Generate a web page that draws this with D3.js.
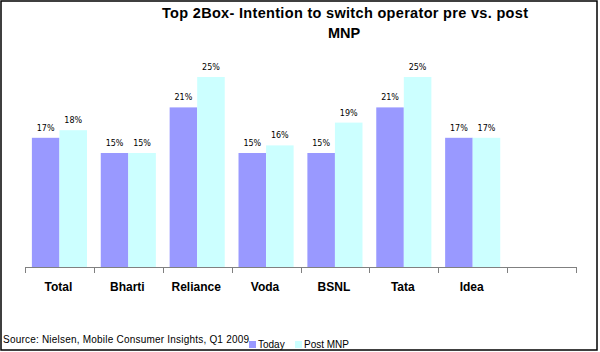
<!DOCTYPE html>
<html>
<head>
<meta charset="utf-8">
<script src="https://cdn.jsdelivr.net/npm/d3@7"></script>
<style>
  body { margin: 0; background: #fff; }
  svg { display: block; }
  .cat-label { font-family: "Liberation Sans", Arial, sans-serif; font-weight: bold; font-size: 12px; }
  .val-label { font-family: "DejaVu Sans", Verdana, sans-serif; font-size: 8px; }
</style>
</head>
<body>
<div id="chart"></div>
<script>
// operators on the x axis (last slot is an empty category in the original)
const categories = ["Total", "Bharti", "Reliance", "Voda", "BSNL", "Tata", "Idea", ""];
const seriesNames = ["Today", "Post MNP"];
const today   = [17, 15, 21, 15, 15, 21, 17, null];
const postMnp = [18, 15, 25, 16, 19, 25, 17, null];
const colors = ["#9999FF", "#CCFFFF"];

const width = 600, height = 352;

const svg = d3.select("#chart").append("svg")
    .attr("width", width)
    .attr("height", height);

// outer frame
svg.append("rect")
    .attr("x", 1).attr("y", 1)
    .attr("width", 596).attr("height", 349)
    .attr("fill", "none")
    .attr("stroke", "#000")
    .attr("stroke-width", 1.5);

// title, two lines
const title = svg.append("text")
    .attr("text-anchor", "middle")
    .style("font-family", "Liberation Sans, Arial, sans-serif")
    .style("font-weight", "bold")
    .style("font-size", "14.5px");
title.append("tspan").attr("x", 345).attr("y", 18)
    .attr("textLength", 366).attr("lengthAdjust", "spacing")
    .text("Top 2Box- Intention to switch operator pre vs. post");
title.append("tspan").attr("x", 344).attr("y", 38).text("MNP");

let x = d3.scaleBand()
    .domain(d3.range(categories.length))
    .range([25, 576])
    .padding(0);

let y = d3.scaleLinear()
    .domain([0, 30])
    .range([267, 39]);

const barW = x.bandwidth() * 0.4;
const offset = x.bandwidth() * 0.1;

const rows = [];
categories.forEach((c, i) => {
    [today, postMnp].forEach((s, j) => {
        if (s[i] != null) rows.push({i: i, j: j, v: s[i]});
    });
});

svg.selectAll(".bar")
    .data(rows)
    .enter()
    .append("rect")
    .attr("class", "bar")
    .attr("x", d => x(d.i) + offset + d.j * barW)
    .attr("y", d => y(d.v))
    .attr("width", barW)
    .attr("height", d => y(0) - y(d.v))
    .attr("fill", d => colors[d.j]);

svg.selectAll(".val-label")
    .data(rows)
    .enter()
    .append("text")
    .attr("class", "val-label")
    .attr("x", d => x(d.i) + offset + d.j * barW + barW / 2)
    .attr("y", d => y(d.v) - 7)
    .attr("text-anchor", "middle")
    .text(d => d.v + "%");

// x axis: baseline + ticks at band edges
const xAxis = svg.append("g").attr("class", "axis");
xAxis.append("line")
    .attr("x1", 25).attr("x2", 576)
    .attr("y1", y(0) + 0.5).attr("y2", y(0) + 0.5)
    .attr("stroke", "#808080");
xAxis.selectAll(".tick")
    .data(d3.range(categories.length + 1))
    .enter()
    .append("line")
    .attr("x1", d => Math.round(x.range()[0] + d * x.step()) + 0.5)
    .attr("x2", d => Math.round(x.range()[0] + d * x.step()) + 0.5)
    .attr("y1", y(0))
    .attr("y2", y(0) + 6)
    .attr("stroke", "#808080");

svg.selectAll(".cat-label")
    .data(categories)
    .enter()
    .append("text")
    .attr("class", "cat-label")
    .attr("x", (d, i) => x(i) + x.bandwidth() / 2 - 1)
    .attr("y", 291)
    .attr("text-anchor", "middle")
    .text(d => d);

// source note
svg.append("text")
    .attr("x", 3).attr("y", 343)
    .attr("textLength", 246).attr("lengthAdjust", "spacing")
    .style("font-family", "Liberation Sans, Arial, sans-serif")
    .style("font-size", "10px")
    .text("Source:  Nielsen, Mobile Consumer Insights, Q1 2009");

// legend
const legendX = [249, 295];
const legend = svg.selectAll(".legend")
    .data(seriesNames)
    .enter()
    .append("g")
    .attr("class", "legend")
    .attr("transform", (d, i) => `translate(${legendX[i]}, 341)`);
legend.append("rect")
    .attr("width", 7).attr("height", 7)
    .attr("fill", (d, i) => colors[i]);
legend.append("text")
    .attr("x", 9).attr("y", 6.5)
    .style("font-family", "Liberation Sans, Arial, sans-serif")
    .style("font-size", "10px")
    .text(d => d);
</script>
</body>
</html>
